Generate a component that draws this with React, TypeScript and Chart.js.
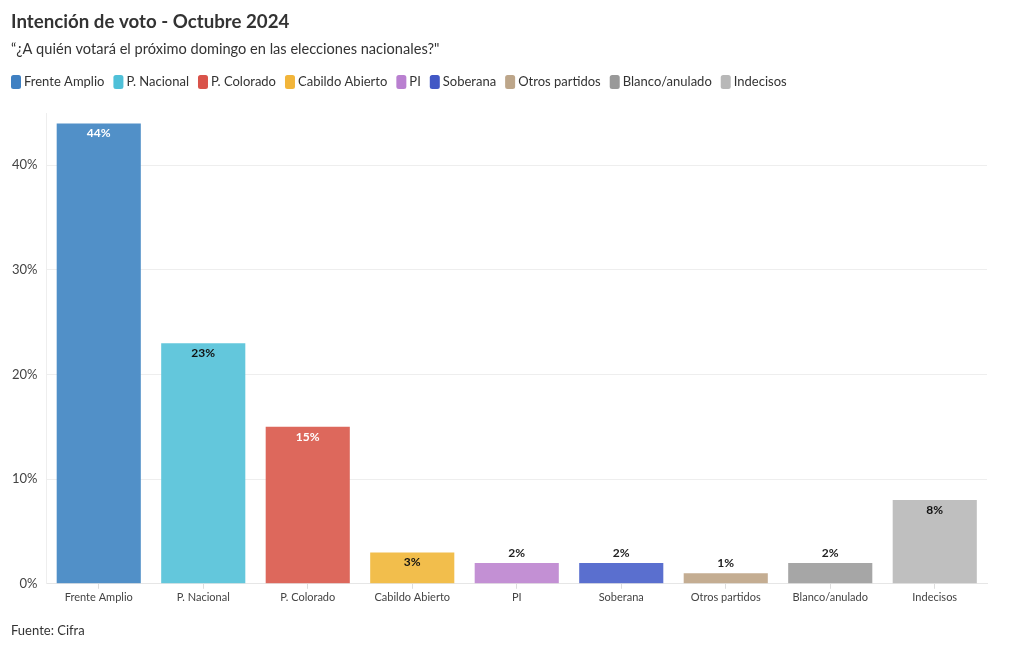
import React, { useEffect, useRef } from "react";
import { Chart, registerables } from "chart.js";
Chart.register(...registerables);

const categories = ["Frente Amplio", "P. Nacional", "P. Colorado", "Cabildo Abierto", "PI", "Soberana", "Otros partidos", "Blanco/anulado", "Indecisos"];
const values = [44, 23, 15, 3, 2, 2, 1, 2, 8];
const barColors = ["#5190c8", "#63c7dc", "#dd685c", "#f2be4c", "#c390d4", "#5a6fcf", "#c4ad92", "#a6a6a6", "#bfbfbf"];
const legendColors = ["#3f80c2", "#4fc0d8", "#d9534a", "#f2b53a", "#b980d0", "#4258c5", "#bda68a", "#999999", "#b8b8b8"];
const labelColors = ["#ffffff", "#111111", "#ffffff", "#111111", "#222222", "#222222", "#222222", "#222222", "#111111"];
const insideLabel = [true, true, true, true, false, false, false, false, true];
const yTicks = [0, 10, 20, 30, 40];
const titleText = "Intención de voto - Octubre 2024";
const subtitleText = "“¿A quién votará el próximo domingo en las elecciones nacionales?\"";
const footerText = "Fuente: Cifra";

const FONT = "'Source Sans Pro', Lato, sans-serif";

const labelsPlugin = {
  id: "barLabels",
  afterDatasetsDraw(chart: any) {
    const ctx = chart.ctx;
    const meta = chart.getDatasetMeta(0);
    ctx.save();
    ctx.font = `bold 12px ${FONT}`;
    ctx.textAlign = "center";
    ctx.textBaseline = "middle";
    meta.data.forEach((bar: any, i: number) => {
      const inside = insideLabel[i];
      ctx.fillStyle = labelColors[i];
      const y = inside ? bar.y + 10 : bar.y - 10;
      ctx.fillText(values[i] + "%", bar.x, y);
    });
    ctx.restore();
  },
};

const textPlugin = {
  id: "texts",
  afterDraw(chart: any) {
    const ctx = chart.ctx;
    ctx.save();
    ctx.textBaseline = "middle";
    ctx.textAlign = "left";
    ctx.fillStyle = "#333";
    ctx.font = `bold 18.7px ${FONT}`;
    ctx.fillText(titleText, 11, 22);
    ctx.font = `14.6px ${FONT}`;
    ctx.fillText(subtitleText, 11, 49);
    ctx.font = `13px ${FONT}`;
    let x = 11;
    const y = 82;
    categories.forEach((c, i) => {
      ctx.fillStyle = legendColors[i];
      ctx.beginPath();
      (ctx as any).roundRect(x, y - 7, 10, 14, 2.5);
      ctx.fill();
      ctx.fillStyle = "#333";
      ctx.fillText(c, x + 13, y);
      x += 13 + ctx.measureText(c).width + 9;
    });
    ctx.fillStyle = "#333";
    ctx.fillText(footerText, 11, 631);
    ctx.restore();
  },
};

export default function App() {
  const ref = useRef<HTMLCanvasElement>(null);
  useEffect(() => {
    if (!ref.current) return;
    const chart = new Chart(ref.current, {
      type: "bar",
      data: {
        labels: categories,
        datasets: [
          {
            data: values,
            backgroundColor: barColors,
            borderWidth: 0,
            barPercentage: 1,
            categoryPercentage: 0.805,
          },
        ],
      },
      options: {
        animation: false,
        responsive: false,
        maintainAspectRatio: false,
        layout: { padding: { left: 3, right: 33, top: 113, bottom: 44 } },
        plugins: {
          title: { display: false },
          subtitle: { display: false },
          legend: { display: false },
          tooltip: { enabled: false },
        },
        scales: {
          x: {
            grid: { display: true, drawOnChartArea: false, drawTicks: true, tickLength: 5, color: "#dddddd", offset: false },
            border: { display: true, color: "#e6e6e6" },
            ticks: { color: "#444", font: { family: FONT, size: 11 }, padding: 2 },
          },
          y: {
            min: 0,
            max: 45,
            afterBuildTicks: (axis: any) => {
              axis.ticks = yTicks.map((v) => ({ value: v }));
            },
            grid: { color: "#eeeeee", drawTicks: false },
            border: { display: true, color: "#eeeeee" },
            ticks: { color: "#444", font: { family: FONT, size: 13 }, padding: 9, callback: (v: any) => v + "%" },
          },
        },
      },
      plugins: [labelsPlugin, textPlugin],
    } as any);
    return () => chart.destroy();
  }, []);
  return (
    <div style={{ position: "absolute", left: 0, top: 0, width: 1020, height: 650, background: "#fff" }}>
      <canvas ref={ref} width={1020} height={650} style={{ width: 1020, height: 650 }} />
    </div>
  );
}
